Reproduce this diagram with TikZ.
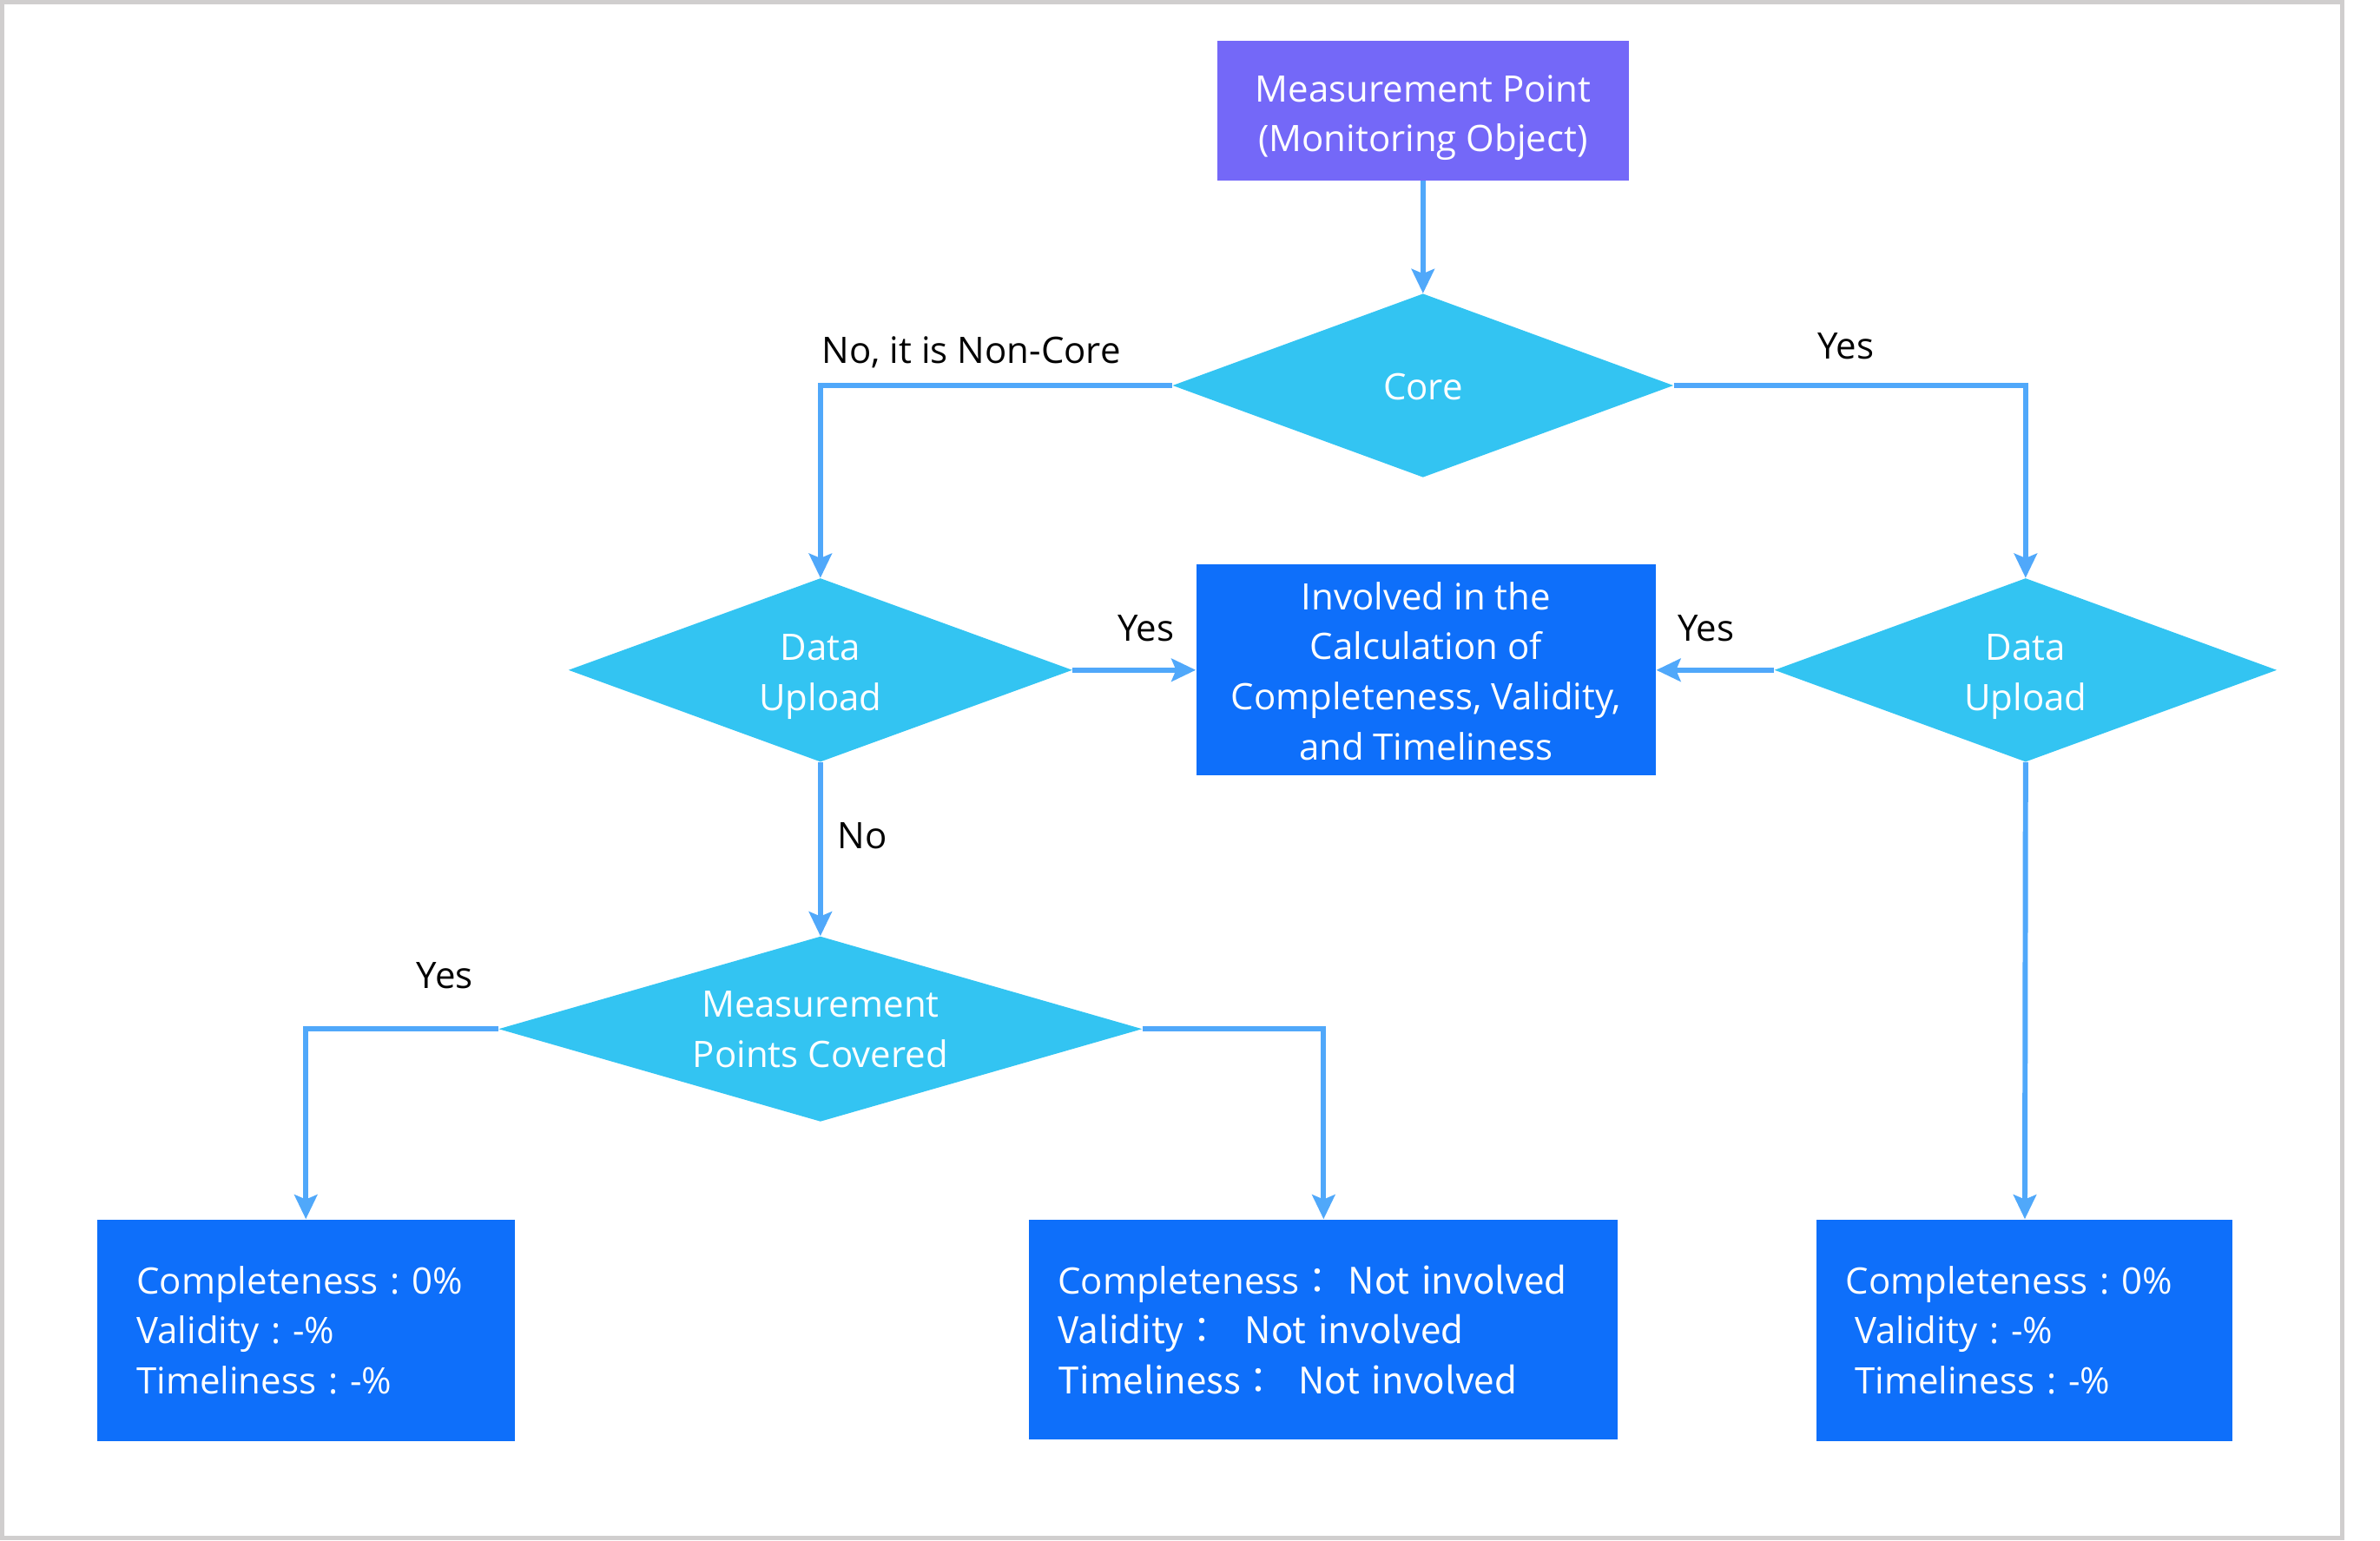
\documentclass[tikz,border=0pt]{standalone}
\usepackage{fontspec}
\setmainfont{Open Sans}
\newfontfamily\cjk{Noto Sans CJK JP}
\usetikzlibrary{shapes.geometric,arrows.meta}
\definecolor{framegray}{HTML}{D0CECE}
\definecolor{topviolet}{HTML}{7468F8}
\definecolor{dcyan}{HTML}{33C4F2}
\definecolor{bblue}{HTML}{0E6FFA}
\definecolor{arrowblue}{HTML}{50A8FA}
\newcommand\dn[2]{\raisebox{-#1}[\height][\depth]{\begin{tabular}{@{}c@{}}#2\end{tabular}}}
\tikzset{
  txt/.style={font=\fontsize{24pt}{33pt}\selectfont\frenchspacing},
  violetbox/.style={txt, fill=topviolet, text=white, align=center, inner sep=0pt},
  decision/.style={txt, diamond, fill=dcyan, text=white, align=center, inner sep=0pt, aspect=2.7},
  bluebox/.style={txt, rectangle, fill=bblue, text=white, inner ysep=0pt},
  conn/.style={draw=arrowblue, line width=3.4pt, -{Stealth[length=16pt,width=15pt,inset=3pt]}},
  lbl/.style={txt, text=black, inner sep=0pt}
}
\begin{document}
\begin{tikzpicture}[x=1pt,y=-1pt]
\useasboundingbox (0,0) rectangle (1568,1015);
\draw[framegray, line width=2.9pt] (1.45,1.45) rectangle (1543.2,1013.5);

\node[violetbox, minimum width=271pt, minimum height=92pt] (top) at (937.5,73) {\dn{4pt}{Measurement Point\\(Monitoring Object)}};
\node[decision, minimum width=330pt, minimum height=121pt] (core) at (937.5,254) {\dn{3pt}{Core}};
\node[decision, minimum width=332pt, minimum height=121pt] (ldu) at (540.5,441.5) {\dn{3.5pt}{Data\\Upload}};
\node[decision, minimum width=331pt, minimum height=121pt] (rdu) at (1334.5,441.5) {\dn{3.5pt}{Data\\Upload}};
\node[bluebox, align=center, minimum width=303pt, minimum height=139pt, inner xsep=0pt] (mid) at (939.5,441.5) {\dn{3pt}{Involved in the\\Calculation of\\Completeness, Validity,\\and Timeliness}};
\node[decision, aspect=3.4, minimum width=424pt, minimum height=122pt] (mpc) at (540.5,678) {\dn{2pt}{Measurement\\Points Covered}};

\node[bluebox, align=left, inner xsep=26pt, text width=223pt, minimum height=146pt] (bl) at (201.5,876.5) {Completeness : 0\%\\Validity : -\%\\Timeliness : -\%};
\node[bluebox, align=left, inner xsep=19pt, text width=350pt, minimum height=145pt] (bm) at (872,876) {Completeness\cjk{：}\hspace{8pt}Not involved\\Validity\cjk{：}\hspace{16pt}Not involved\\Timeliness\cjk{：}\hspace{14pt}Not involved};
\node[bluebox, align=left, inner xsep=19pt, text width=236pt, minimum height=146pt] (br) at (1334,876.5) {Completeness : 0\%\\\hspace*{6pt}Validity : -\%\\\hspace*{6pt}Timeliness : -\%};

\draw[conn] (top) -- (core);
\draw[conn] (core.west) -| (ldu.north);
\draw[conn] (core.east) -| (rdu.north);
\draw[conn] (ldu.east) -- (mid.west);
\draw[conn] (rdu.west) -- (mid.east);
\draw[conn] (ldu.south) -- (mpc.north);
\draw[conn] (mpc.west) -| (bl.north);
\draw[conn] (mpc.east) -| (bm.north);
\draw[conn] (rdu.south) -- (br.north);

\node[lbl] (l1) at (640,232) {No, it is Non-Core};
\node[lbl] (l2) at (1216,228) {Yes};
\node[lbl] (l3) at (755,414) {Yes};
\node[lbl] (l4) at (1124,414) {Yes};
\node[lbl] (l5) at (568,551) {No};
\node[lbl] (l6) at (293,643) {Yes};
\end{tikzpicture}
\end{document}
